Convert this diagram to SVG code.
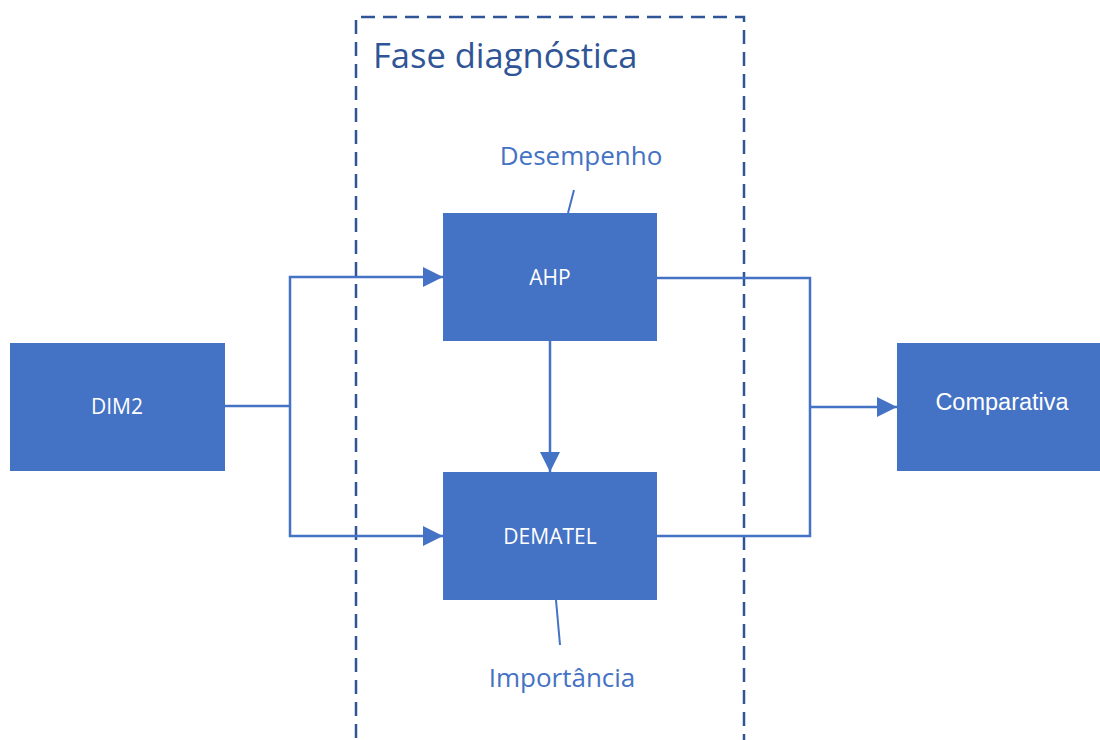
<svg xmlns="http://www.w3.org/2000/svg" width="1100" height="740" viewBox="0 0 1100 740">
  <defs>
    <marker id="arrow" viewBox="0 0 10 10" refX="10" refY="5" markerWidth="21" markerHeight="20" markerUnits="userSpaceOnUse" orient="auto">
      <path d="M0,0 L10,5 L0,10 Z" fill="#4472C4"/>
    </marker>
    <style>
      .box { fill: #4472C4; }
      .boxlabel { fill: #FFFFFF; font-family: "Open Sans", "Noto Sans", sans-serif; font-size: 21px; text-anchor: middle; }
      .link { fill: none; stroke: #4472C4; stroke-width: 2.5; }
      .callout { fill: none; stroke: #4472C4; stroke-width: 2; }
      .note { fill: #4472C4; font-family: "Open Sans", "Noto Sans", sans-serif; font-size: 26px; text-anchor: middle; }
      .frame { fill: none; stroke: #2F5597; stroke-width: 2.5; stroke-dasharray: 14 8; }
      .title { fill: #2F5597; font-family: "Open Sans", "Noto Sans", sans-serif; font-size: 34.5px; }
    </style>
  </defs>

  <!-- diagnostic phase frame -->
  <g id="fase-diagnostica">
    <path class="frame" d="M356,760 V17 H744 V760"/>
    <text class="title" x="373" y="68">Fase diagnóstica</text>
  </g>

  <!-- connectors -->
  <g id="connectors">
    <polyline class="link" points="225,406 290,406"/>
    <polyline class="link" points="290,406 290,277 443,277" marker-end="url(#arrow)"/>
    <polyline class="link" points="290,406 290,536 443,536" marker-end="url(#arrow)"/>
    <line class="link" x1="550" y1="341" x2="550" y2="472" marker-end="url(#arrow)"/>
    <polyline class="link" points="657,278 810,278 810,536 657,536"/>
    <line class="link" x1="810" y1="407" x2="897" y2="407" stroke-width="3" marker-end="url(#arrow)"/>
    <line class="callout" x1="574" y1="190" x2="568" y2="213"/>
    <line class="callout" x1="556" y1="600" x2="560" y2="645"/>
  </g>

  <g id="dim2">
    <rect class="box" x="10" y="343" width="215" height="128"/>
    <text class="boxlabel" x="117" y="414">DIM2</text>
  </g>

  <g id="ahp">
    <rect class="box" x="443" y="213" width="214" height="128"/>
    <text class="boxlabel" x="550" y="285">AHP</text>
  </g>

  <g id="dematel">
    <rect class="box" x="443" y="472" width="214" height="128"/>
    <text class="boxlabel" x="550" y="544">DEMATEL</text>
  </g>

  <g id="comparativa">
    <rect class="box" x="897" y="343" width="210" height="128"/>
    <text class="boxlabel" x="1002" y="410" style="font-family: 'Liberation Sans', Arial, sans-serif; font-size: 23.5px;">Comparativa</text>
  </g>

  <g id="desempenho">
    <text class="note" x="581" y="165">Desempenho</text>
  </g>

  <g id="importancia">
    <text class="note" x="562" y="687">Importância</text>
  </g>
</svg>
